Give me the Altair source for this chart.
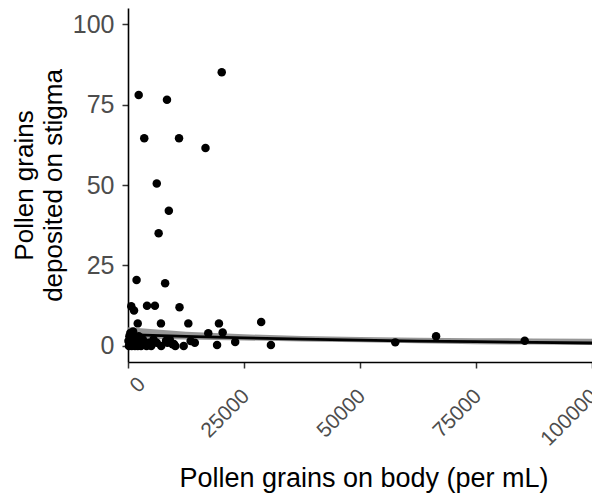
import altair as alt
import pandas as pd

pollen_body = [
    20200, 2300, 8400, 3500, 11000, 16700, 6200, 8800, 6600, 1850, 8000,
    700, 1300, 4100, 5800, 11100, 2100, 7100, 13000, 19600, 28700, 20400, 17300,
    4000, 7150, 9600, 10200, 14400, 19200, 23100, 30800, 57600, 66400, 85500,
    200, 400, 600, 800, 1000, 1200, 1500, 1800, 2100, 2500, 2800, 3200,
    500, 300, 1100, 100, 1700, 2300, 4500, 5000, 5500, 6200, 8200, 8500,
    9000, 9900, 12000, 13500,
]
pollen_stigma = [
    85, 78, 76.5, 64.5, 64.5, 61.5, 50.5, 42, 35, 20.5, 19.5,
    12.3, 11, 12.5, 12.5, 12, 7, 7, 7, 7, 7.4, 4.2, 3.9,
    0, 0, 0.5, 0, 1, 0.3, 1.2, 0.3, 1.1, 3, 1.6,
    0, 1, 2, 0, 3, 1, 0, 2, 0, 1, 0, 2,
    4, 3, 4.5, 1.5, 1, 3, 1, 0, 2, 1, 1.6, 1,
    2, 0.6, 0, 1.5,
]

# Fitted curve and its confidence band
fit_x = [0, 12500, 25000, 37500, 50000, 62500, 75000, 87500, 100000]
fit_y = [3.5, 2.95, 2.5, 2.1, 1.8, 1.5, 1.3, 1.1, 0.9]
fit_lo = [2.2, 2.0, 1.7, 1.4, 1.1, 0.8, 0.55, 0.4, 0.25]
fit_hi = [5.8, 4.4, 3.6, 3.1, 2.8, 2.55, 2.4, 2.3, 2.2]

x_ticks = [0, 25000, 50000, 75000, 100000]
y_ticks = [0, 25, 50, 75, 100]

pts = pd.DataFrame({"body": pollen_body, "stigma": pollen_stigma})
fit = pd.DataFrame({"body": fit_x, "fit": fit_y, "lo": fit_lo, "hi": fit_hi})

FONT = "Liberation Sans"
xscale = alt.Scale(domain=[0, 100000], nice=False, zero=False)
yscale = alt.Scale(domain=[-5, 105], nice=False, zero=False)

xaxis = alt.Axis(
    values=x_ticks, format="d", title="Pollen grains on body (per mL)",
    labelAngle=-45, labelAlign="right", labelBaseline="top",
    labelFontSize=21, labelColor="#4d4d4d", labelFont=FONT,
    labelPadding={"condition": {"test": "datum.value == 0", "value": 5}, "value": 17},
    labelOffset={"condition": {"test": "datum.value == 0", "value": 6}, "value": -6},
    labelFlush=False, labelOverlap=False, labelBound=False,
    tickSize=6, tickColor="#333333", tickWidth=1.5,
    domainColor="black", domainWidth=1.6, grid=False,
    titleFontSize=27, titleColor="black", titleFontWeight="normal", titleFont=FONT,
    titleX=235.5, titleY=124, titleAlign="center", titleBaseline="alphabetic",
)
yaxis = alt.Axis(
    values=y_ticks, title=["Pollen grains", "deposited on stigma"],
    labelFontSize=25, labelColor="#4d4d4d", labelFont=FONT, labelPadding=8,
    labelFlush=False, labelOverlap=False,
    tickSize=6, tickColor="#333333", tickWidth=1.5,
    domainColor="black", domainWidth=1.6, grid=False,
    titleFontSize=26, titleColor="black", titleFontWeight="normal", titleFont=FONT,
    titleAngle=-90, titleX=-104, titleY=177, titleAlign="center",
    titleBaseline="middle", titleLineHeight=29,
)

band = alt.Chart(fit).mark_area(color="#8c8c8c", opacity=0.9).encode(
    x=alt.X("body:Q", scale=xscale, axis=xaxis),
    y=alt.Y("lo:Q", scale=yscale, axis=yaxis),
    y2="hi:Q",
)
line = alt.Chart(fit).mark_line(color="black", strokeWidth=2.8).encode(
    x=alt.X("body:Q", scale=xscale, axis=xaxis),
    y=alt.Y("fit:Q", scale=yscale, axis=yaxis),
)
points = alt.Chart(pts).mark_circle(size=72, color="black", opacity=1).encode(
    x=alt.X("body:Q", scale=xscale, axis=xaxis),
    y=alt.Y("stigma:Q", scale=yscale, axis=yaxis),
)

chart = (
    alt.layer(band, line, points)
    .properties(
        width=464, height=354,
        autosize=alt.AutoSizeParams(type="none"),
        padding={"left": 120, "top": 0, "right": 0, "bottom": 131},
    )
    .configure(font=FONT)
    .configure_view(strokeWidth=0, stroke="transparent")
)

chart.save("out.html", embed_options={"renderer": "svg", "actions": False})
